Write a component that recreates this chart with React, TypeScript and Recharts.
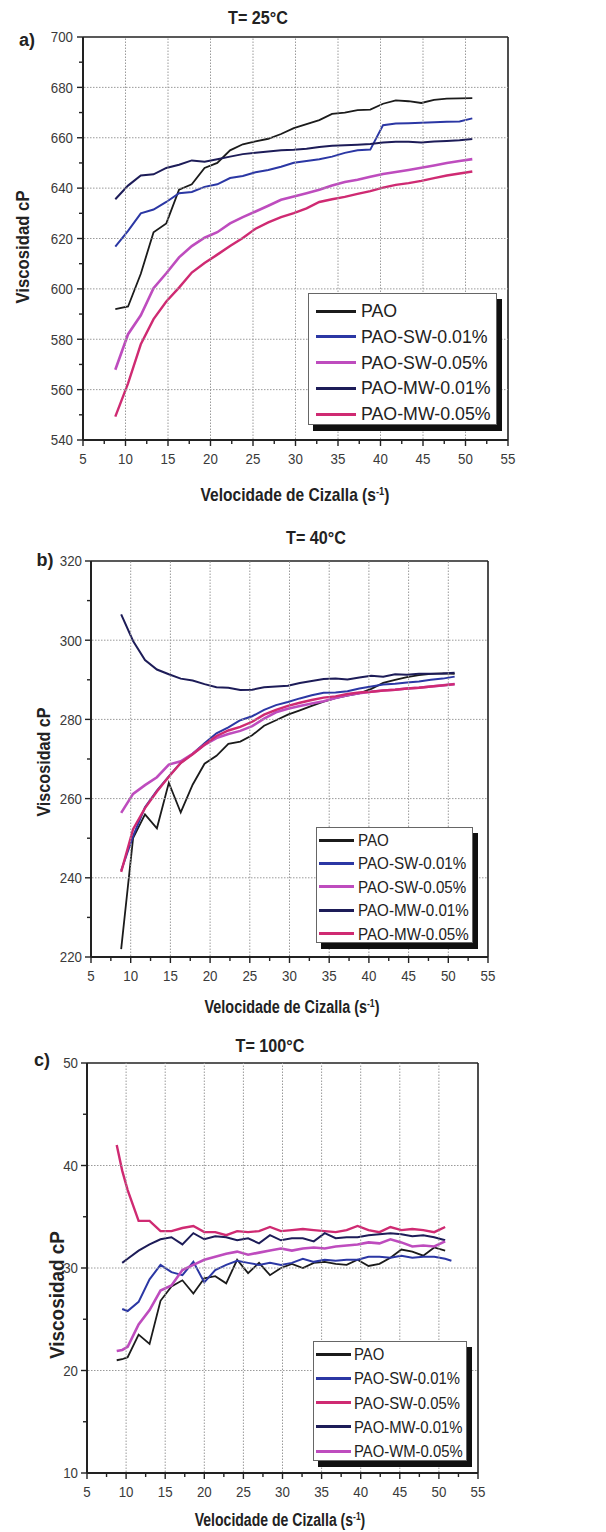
import React from 'react';
import { LineChart, Line, XAxis, YAxis, ReferenceLine } from 'recharts';

// ---------- DATA ----------
// Panel a) T = 25°C
const xA = [8.8, 10.3, 11.8, 13.3, 14.8, 16.3, 17.8, 19.3, 20.8, 22.3, 23.8, 25.3, 26.8, 28.3, 29.8, 31.3, 32.8, 34.3, 35.8, 37.3, 38.8, 40.3, 41.8, 43.3, 44.8, 46.3, 47.8, 49.3, 50.8];
const aPAO = [592, 593, 606, 622.5, 626, 639.4, 641.5, 648, 650, 655, 657.4, 658.6, 659.6, 661.5, 663.8, 665.4, 667, 669.5, 670, 671, 671.2, 673.5, 674.8, 674.5, 673.8, 675, 675.5, 675.6, 675.7];
const aSW01 = [616.8, 623, 630, 631.5, 634.5, 638, 638.5, 640.5, 641.5, 644, 644.8, 646.3, 647.2, 648.5, 650.1, 650.8, 651.5, 652.5, 654, 655, 655.3, 665, 665.7, 665.8, 666, 666.2, 666.4, 666.5, 667.7];
const aSW05 = [567.9, 582, 589.5, 600.3, 606.2, 612.5, 617, 620.3, 622.5, 626, 628.5, 630.7, 633, 635.4, 636.7, 638, 639.4, 641, 642.4, 643.3, 644.5, 645.6, 646.4, 647.2, 648.1, 649, 650, 650.8, 651.5];
const aMW01 = [635.6, 641, 645, 645.5, 648, 649.3, 651, 650.5, 651.5, 652.5, 653.5, 654, 654.5, 655, 655.2, 655.6, 656.3, 656.8, 657, 657.2, 657.5, 658.1, 658.4, 658.4, 658.1, 658.5, 658.7, 659, 659.5];
const aMW05 = [549.3, 562.5, 578, 588, 595, 600.5, 606.5, 610.3, 613.6, 617, 620.2, 623.9, 626.4, 628.5, 630.1, 632, 634.5, 635.6, 636.5, 637.7, 638.8, 640.2, 641.3, 642, 642.9, 644, 645, 645.8, 646.6];

// Panel b) T = 40°C
const xB = [8.8, 10.3, 11.8, 13.3, 14.8, 16.3, 17.8, 19.3, 20.8, 22.3, 23.8, 25.3, 26.8, 28.3, 29.8, 31.3, 32.8, 34.3, 35.8, 37.3, 38.8, 40.3, 41.8, 43.3, 44.8, 46.3, 47.8, 49.3, 50.8];
const bPAO = [222, 250, 256, 252.5, 264, 256.5, 263.5, 268.8, 270.8, 273.8, 274.4, 276, 278.4, 279.8, 281.2, 282.3, 283.4, 284.5, 285.4, 286, 286.6, 287.7, 289.2, 290, 290.7, 291.2, 291.5, 291.6, 291.5];
const bSW01 = [241.8, 250.5, 257.8, 262, 265.6, 269, 271.3, 274, 276.5, 278, 279.8, 280.8, 282.4, 283.6, 284.4, 285.3, 286.1, 286.7, 286.8, 287.1, 287.8, 288.3, 288.8, 289, 289.3, 289.6, 290, 290.3, 290.8];
const bSW05 = [256.4, 261.2, 263.4, 265.4, 268.6, 269.4, 271.3, 273.6, 275.3, 276.3, 277.1, 278.3, 280.2, 281.8, 282.7, 283.4, 284, 284.6, 285.4, 286.1, 286.6, 287, 287.3, 287.5, 287.8, 288, 288.3, 288.6, 288.9];
const bMW01 = [306.5, 299.8, 295, 292.6, 291.4, 290.3, 289.8, 288.9, 288.1, 288, 287.4, 287.5, 288.1, 288.3, 288.5, 289.2, 289.7, 290.2, 290.3, 290.1, 290.6, 291, 290.8, 291.4, 291.3, 291.5, 291.5, 291.6, 291.8];
const bMW05 = [241.5, 252.3, 257.6, 261.8, 265.5, 269, 271.2, 273.6, 275.8, 277.2, 278.1, 279.4, 281.2, 282.4, 283.4, 284.2, 284.9, 285.5, 285.8, 286.4, 286.8, 287, 287.3, 287.5, 287.8, 288, 288.3, 288.6, 288.9];

// Panel c) T = 100°C
const xC = [8.8, 9.5, 10.2, 11.6, 13.0, 14.4, 15.8, 17.2, 18.6, 20.0, 21.4, 22.8, 24.2, 25.6, 27.0, 28.4, 29.8, 31.2, 32.6, 34.0, 35.4, 36.8, 38.2, 39.6, 41.0, 42.4, 43.8, 45.2, 46.6, 48.0, 49.4, 50.8, 51.6];
const cPAO = [21.0, 21.1, 21.3, 23.5, 22.6, 26.8, 28.2, 28.8, 27.5, 29.0, 29.2, 28.5, 30.8, 29.5, 30.5, 29.3, 30.0, 30.4, 30.0, 30.5, 30.6, 30.4, 30.3, 30.8, 30.2, 30.4, 31.0, 31.8, 31.6, 31.2, 32.0, 31.7, null];
const cSW01 = [null, 26.0, 25.8, 26.7, 28.9, 30.3, 29.6, 29.3, 30.6, 28.6, 29.8, 30.3, 30.7, 30.5, 30.3, 30.5, 30.3, 30.5, 30.9, 30.6, 30.8, 30.7, 30.8, 30.8, 31.1, 31.1, 31.0, 31.2, 31.0, 31.1, 31.1, 30.9, 30.7];
const cSW05 = [42.0, 39.5, 37.6, 34.6, 34.6, 33.6, 33.6, 33.9, 34.1, 33.5, 33.5, 33.2, 33.6, 33.5, 33.6, 34.0, 33.6, 33.7, 33.8, 33.7, 33.6, 33.5, 33.7, 34.1, 33.7, 33.5, 34.0, 33.7, 33.8, 33.7, 33.5, 34.0, null];
const cMW01 = [null, 30.5, 30.9, 31.7, 32.3, 32.8, 33.0, 32.3, 33.4, 32.8, 33.1, 33.0, 32.7, 32.9, 32.4, 33.2, 32.7, 32.9, 32.9, 32.6, 33.4, 32.9, 33.0, 33.0, 33.2, 33.3, 33.4, 33.3, 33.1, 33.2, 33.0, 32.7, null];
const cWM05 = [21.9, 22.0, 22.3, 24.5, 25.9, 27.8, 28.3, 29.8, 30.3, 30.8, 31.1, 31.4, 31.6, 31.3, 31.5, 31.7, 31.9, 31.7, 31.9, 32.0, 31.9, 32.1, 32.2, 32.3, 32.5, 32.4, 32.8, 32.5, 32.1, 32.2, 32.1, 32.6, null];

// Axis ticks
const xTicks = [5, 7.5, 10, 12.5, 15, 17.5, 20, 22.5, 25, 27.5, 30, 32.5, 35, 37.5, 40, 42.5, 45, 47.5, 50, 52.5, 55];
const xGrid = [10, 15, 20, 25, 30, 35, 40, 45, 50];
const yTicksA = [540, 550, 560, 570, 580, 590, 600, 610, 620, 630, 640, 650, 660, 670, 680, 690, 700];
const yGridA = [560, 580, 600, 620, 640, 660, 680];
const yTicksB = [220, 230, 240, 250, 260, 270, 280, 290, 300, 310, 320];
const yGridB = [240, 260, 280, 300];
const yTicksC = [10, 15, 20, 25, 30, 35, 40, 45, 50];
const yGridC = [20, 30, 40];

const labelsAB = ['PAO', 'PAO-SW-0.01%', 'PAO-SW-0.05%', 'PAO-MW-0.01%', 'PAO-MW-0.05%'];
const labelsC = ['PAO', 'PAO-SW-0.01%', 'PAO-SW-0.05%', 'PAO-MW-0.01%', 'PAO-WM-0.05%'];

// ---------- STYLE ----------
const SANS = "'Liberation Sans', Arial, sans-serif";
const C_PAO = '#1b1b1b';
const C_SW1 = '#2b37a4';
const C_VIO = '#be4cbe';
const C_NAVY = '#1d1c58';
const C_CRIM = '#cf2a72';

const dataA = xA.map((x, i) => ({ x, s1: aPAO[i], s2: aSW01[i], s3: aSW05[i], s4: aMW01[i], s5: aMW05[i] }));
const dataB = xB.map((x, i) => ({ x, s1: bPAO[i], s2: bSW01[i], s3: bSW05[i], s4: bMW01[i], s5: bMW05[i] }));
const dataC = xC.map((x, i) => ({ x, s1: cPAO[i], s2: cSW01[i], s3: cSW05[i], s4: cMW01[i], s5: cWM05[i] }));

const seriesAB = [
  { key: 's1', color: C_PAO, w: 1.8 },
  { key: 's2', color: C_SW1, w: 2 },
  { key: 's3', color: C_VIO, w: 2.6 },
  { key: 's4', color: C_NAVY, w: 2 },
  { key: 's5', color: C_CRIM, w: 2.4 },
];
const seriesC = [
  { key: 's1', color: C_PAO, w: 1.8 },
  { key: 's2', color: C_SW1, w: 2 },
  { key: 's3', color: C_CRIM, w: 2.4 },
  { key: 's4', color: C_NAVY, w: 2 },
  { key: 's5', color: C_VIO, w: 2.6 },
];
const legendColorsAB = [C_PAO, C_SW1, C_VIO, C_NAVY, C_CRIM];
const legendColorsC = [C_PAO, C_SW1, C_CRIM, C_NAVY, C_VIO];

const TICK_FS = 15.5;
const TICK_SX = 0.86;
const GRID_STROKE = '#9a9a9a';
const GRID_DASH = '1.5 1.5';

// x tick: draws tick mark, label, and (for grid values) a dotted vertical grid line up the plot
const makeXTick = (plotH: number) => (props: any) => {
  const { x, y, payload } = props;
  const v = payload.value;
  const major = v % 5 === 0;
  return (
    <g>
      {xGrid.includes(v) && (
        <line x1={x} x2={x} y1={y - 1} y2={y - plotH} stroke={GRID_STROKE} strokeWidth={1} strokeDasharray={GRID_DASH} />
      )}
      <line x1={x} x2={x} y1={y} y2={y + (major ? 6 : 4)} stroke="#222" strokeWidth={1.4} />
      {major && (
        <text
          transform={`translate(${x},${y + 24}) scale(${TICK_SX},1)`}
          textAnchor="middle"
          fontSize={TICK_FS}
          fill="#3a3a3a"
          fontFamily={SANS}
        >
          {v}
        </text>
      )}
    </g>
  );
};

const makeYTick = (majorStep: number, base: number, gap: number, grid: number[], plotW: number) => (props: any) => {
  const { x, y, payload } = props;
  const v = payload.value;
  const major = (v - base) % majorStep === 0;
  return (
    <g>
      {grid.includes(v) && (
        <line x1={x + 1} x2={x + plotW} y1={y} y2={y} stroke={GRID_STROKE} strokeWidth={1} strokeDasharray={GRID_DASH} />
      )}
      <line x1={x} x2={x - (major ? 6 : 4)} y1={y} y2={y} stroke="#222" strokeWidth={1.4} />
      {major && (
        <text
          transform={`translate(${x - gap},${y + 5.3}) scale(${TICK_SX},1)`}
          textAnchor="end"
          fontSize={TICK_FS}
          fill="#3a3a3a"
          fontFamily={SANS}
        >
          {v}
        </text>
      )}
    </g>
  );
};

function Panel(p: any) {
  const plotW = 606 - p.yW - p.mRight;
  const plotH = p.height - p.mTop - p.xH;
  const YT = makeYTick(p.yMajor, p.yDomain[0], p.gap, p.yGrid, plotW);
  const XT = makeXTick(plotH);
  return (
    <div style={{ position: 'absolute', left: 0, top: p.top, width: 606, height: p.height }}>
      <LineChart width={606} height={p.height} data={p.data} margin={{ top: p.mTop, right: p.mRight, left: 0, bottom: 0 }}>
        <XAxis
          dataKey="x"
          type="number"
          domain={[5, 55]}
          ticks={xTicks}
          interval={0}
          height={p.xH}
          tickSize={0}
          tickMargin={0}
          tickLine={false}
          axisLine={{ stroke: '#222', strokeWidth: 2 }}
          tick={(tp: any) => <XT {...tp} />}
        />
        <YAxis
          type="number"
          domain={p.yDomain}
          ticks={p.yTicks}
          interval={0}
          width={p.yW}
          tickSize={0}
          tickMargin={0}
          tickLine={false}
          axisLine={{ stroke: '#222', strokeWidth: 2 }}
          tick={(tp: any) => <YT {...tp} />}
        />
        <ReferenceLine x={55} stroke="#222" strokeWidth={1.6} ifOverflow="visible" />
        <ReferenceLine y={p.yDomain[1]} stroke="#222" strokeWidth={1.6} ifOverflow="visible" />
        {p.series.map((s: any) => (
          <Line key={s.key} dataKey={s.key} type="linear" stroke={s.color} strokeWidth={s.w} dot={false} isAnimationActive={false} />
        ))}
      </LineChart>
    </div>
  );
}

const T = ({ x, y, children, size = 18, sx = 0.85, bold = true, rotate = false }: any) => (
  <div
    style={{
      position: 'absolute',
      left: x,
      top: y,
      transform: `translate(-50%, -50%)${rotate ? ' rotate(-90deg)' : ''} scaleX(${sx})`,
      whiteSpace: 'nowrap',
      fontFamily: SANS,
      fontWeight: bold ? 'bold' : 'normal',
      fontSize: size,
      color: '#222',
      lineHeight: 1,
    }}
  >
    {children}
  </div>
);

const XLabel = ({ x, y, size, sx }: any) => (
  <T x={x} y={y} size={size} sx={sx}>
    Velocidade de Cizalla (s<sup style={{ fontSize: size * 0.6, verticalAlign: 'top', lineHeight: 1 }}>-1</sup>)
  </T>
);

const LegendBox = ({ left, top, width, height, labels, colors, spacing, fontSize, sx, first, lineX, lineW, textX }: any) => (
  <div
    style={{
      position: 'absolute',
      left,
      top,
      width,
      height,
      boxSizing: 'border-box',
      border: '1px solid #666',
      background: '#fff',
      boxShadow: '5px 6px 0 #111',
    }}
  >
    {labels.map((l: string, i: number) => (
      <div key={l} style={{ position: 'absolute', left: 0, top: first + i * spacing, height: 0 }}>
        <div style={{ position: 'absolute', left: lineX, top: -1.5, width: lineW, height: 3, background: colors[i] }} />
        <div
          style={{
            position: 'absolute',
            left: textX,
            top: 0,
            transform: `translateY(-50%) scaleX(${sx})`,
            transformOrigin: 'left center',
            fontFamily: SANS,
            fontSize,
            color: '#222',
            whiteSpace: 'nowrap',
            lineHeight: 1,
          }}
        >
          {l}
        </div>
      </div>
    ))}
  </div>
);

export default function App() {
  return (
    <div style={{ position: 'absolute', left: 0, top: 0, width: 606, height: 1532, background: '#fff', overflow: 'hidden' }}>
      {/* Panel a */}
      <Panel top={0} height={480} mTop={37} mRight={98} yW={83} xH={40} yDomain={[540, 700]} yTicks={yTicksA} yGrid={yGridA} yMajor={20} gap={10} data={dataA} series={seriesAB} />
      {/* Panel b */}
      <Panel top={520} height={480} mTop={41} mRight={118} yW={91} xH={43} yDomain={[220, 320]} yTicks={yTicksB} yGrid={yGridB} yMajor={20} gap={9} data={dataB} series={seriesAB} />
      {/* Panel c */}
      <Panel top={1030} height={480} mTop={33} mRight={128} yW={87} xH={37} yDomain={[10, 50]} yTicks={yTicksC} yGrid={yGridC} yMajor={10} gap={9} data={dataC} series={seriesC} />

      {/* Titles and labels */}
      <T x={258} y={17} size={19} sx={0.85}>T= 25°C</T>
      <T x={27} y={40} size={18} sx={1}>a)</T>
      <T x={22} y={247} size={19} sx={0.88} rotate>Viscosidad cP</T>
      <XLabel x={295} y={495} size={18.5} sx={0.84} />

      <T x={316} y={537} size={19} sx={0.85}>T= 40°C</T>
      <T x={45} y={560} size={18} sx={1}>b)</T>
      <T x={43} y={762} size={19} sx={0.85} rotate>Viscosidad cP</T>
      <XLabel x={292} y={1007} size={18} sx={0.8} />

      <T x={270} y={1045} size={19} sx={0.85}>T= 100°C</T>
      <T x={42} y={1060} size={18} sx={1}>c)</T>
      <T x={56} y={1295} size={21} sx={0.9} rotate>Viscosidad cP</T>
      <XLabel x={280} y={1520} size={18} sx={0.78} />

      <LegendBox left={308} top={293} width={189} height={132} labels={labelsAB} colors={legendColorsAB} spacing={25.8} fontSize={18.5} sx={0.96} first={17} lineX={7} lineW={40} textX={52} />
      <LegendBox left={316} top={827} width={157} height={116} labels={labelsAB} colors={legendColorsAB} spacing={23.4} fontSize={16.5} sx={0.92} first={12} lineX={2} lineW={35} textX={41} />
      <LegendBox left={313} top={1341} width={154} height={120} labels={labelsC} colors={legendColorsC} spacing={24.3} fontSize={16.5} sx={0.9} first={12} lineX={2} lineW={35} textX={40} />
    </div>
  );
}
